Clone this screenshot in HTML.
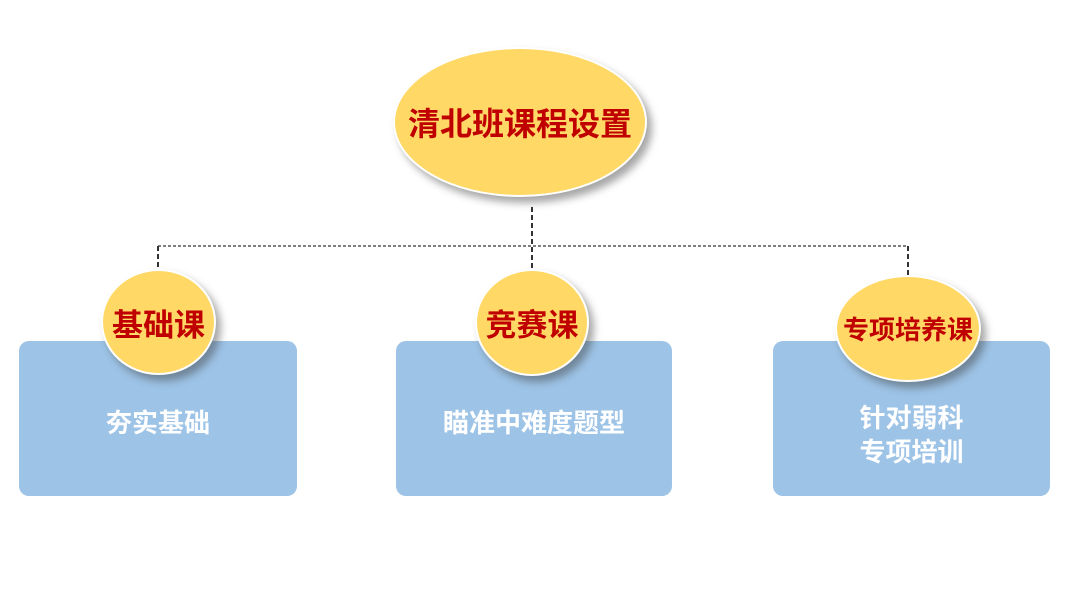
<!DOCTYPE html>
<html><head><meta charset="utf-8"><style>
body{margin:0;width:1080px;height:592px;background:#fff;position:relative;overflow:hidden;font-family:"Liberation Sans","Noto Sans CJK SC",sans-serif;}
.box{position:absolute;top:341px;height:155px;background:#9dc3e6;border-radius:10px;color:#fff;font-weight:bold;font-size:26px;display:flex;align-items:center;justify-content:center;text-align:center;line-height:34px;padding-top:8px;box-sizing:border-box;}
.c{position:absolute;background:#ffd866;border:2px solid #fff;border-radius:50%;box-shadow:5px 6px 8px rgba(60,60,60,.45);color:#c00000;font-weight:bold;display:flex;align-items:center;justify-content:center;box-sizing:border-box;white-space:nowrap;}
</style></head><body>
<svg width="1080" height="592" style="position:absolute;left:0;top:0">
<g stroke="#333" stroke-width="1.3" stroke-dasharray="3,2" fill="none">
<line x1="532" y1="207" x2="532" y2="272" stroke-width="2" stroke-dasharray="5,3"/>
<line x1="158" y1="246" x2="908" y2="246"/>
<line x1="158" y1="246" x2="158" y2="272" stroke-width="2" stroke-dasharray="5,3"/>
<line x1="908" y1="246" x2="908" y2="278" stroke-width="2" stroke-dasharray="5,3"/>
</g></svg>
<div class="box" style="left:19px;width:278px">夯实基础</div>
<div class="box" style="left:396px;width:276px">瞄准中难度题型</div>
<div class="box" style="left:773px;width:277px;padding-top:32px">针对弱科<br>专项培训</div>
<div class="c" style="left:393px;top:47px;width:254px;height:150px;font-size:32px">清北班课程设置</div>
<div class="c" style="left:101px;top:269px;width:115px;height:106px;font-size:31px">基础课</div>
<div class="c" style="left:475px;top:269px;width:114px;height:107px;font-size:31px">竞赛课</div>
<div class="c" style="left:835px;top:275px;width:146px;height:107px;font-size:26px">专项培养课</div>
</body></html>
